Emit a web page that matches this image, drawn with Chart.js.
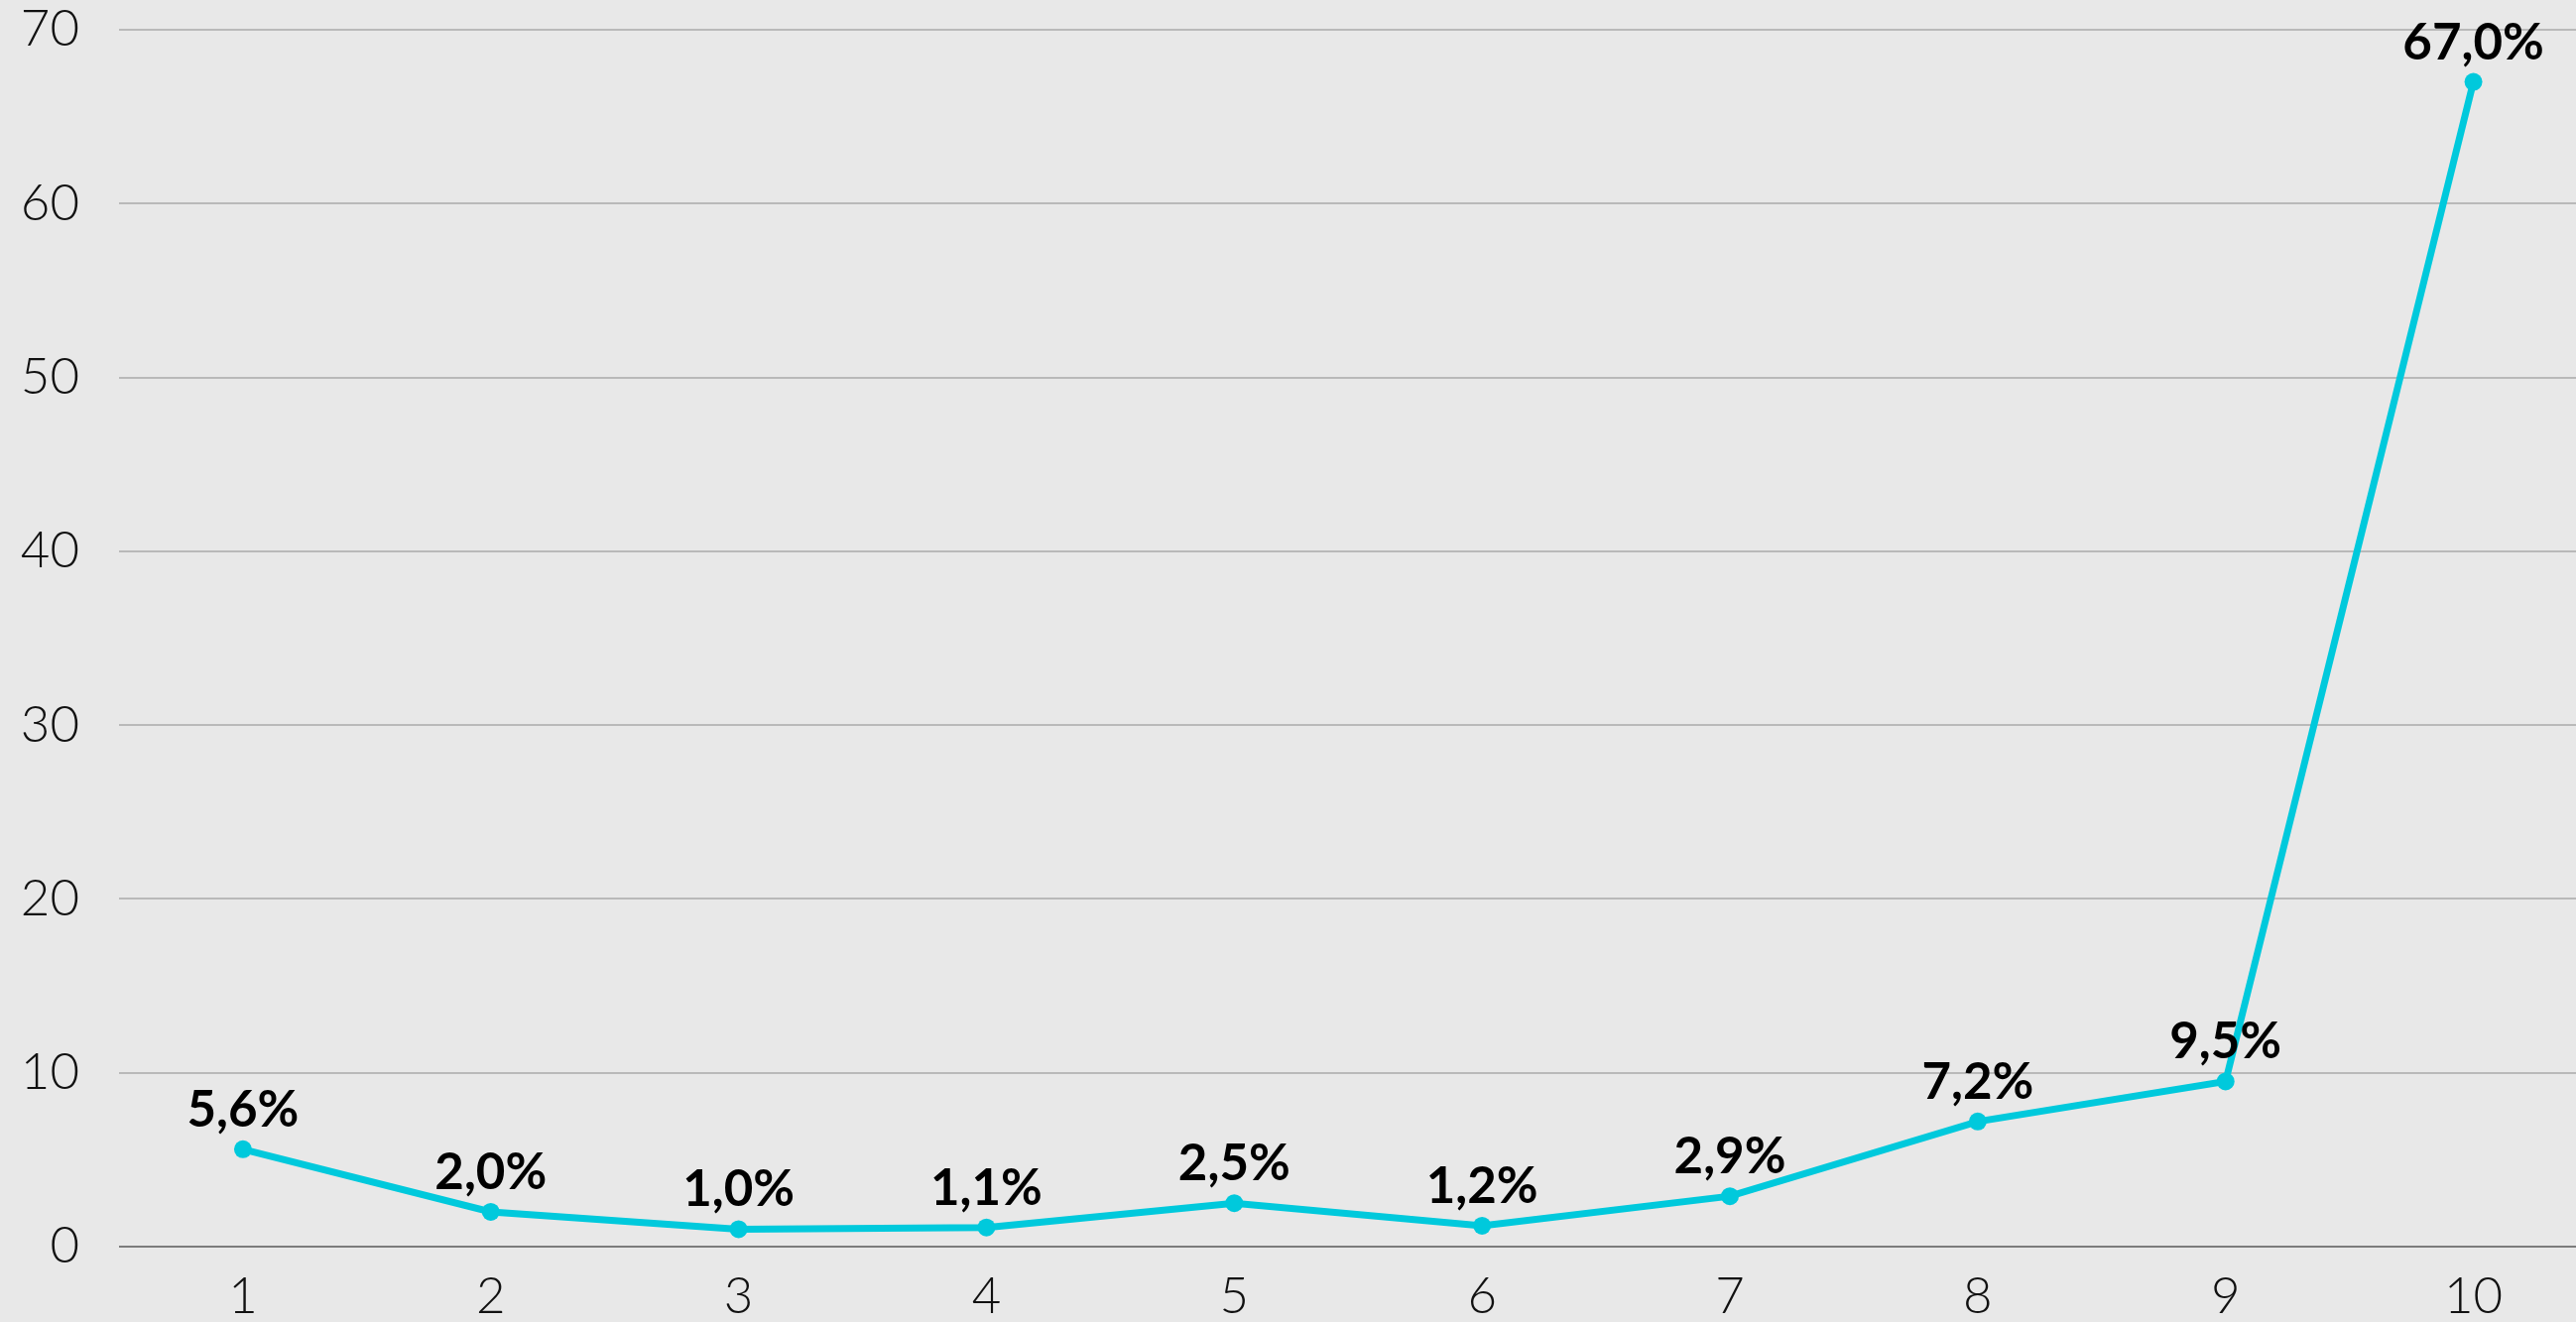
<!DOCTYPE html>
<html lang="en">
<head>
  <meta charset="UTF-8">
  <title>Line chart</title>
  <script src="https://cdn.jsdelivr.net/npm/chart.js"></script>
  <style>
    html, body { margin: 0; padding: 0; background: #e8e8e8; overflow: hidden; }
    #wrap { width: 2597px; height: 1333px; }
  </style>
</head>
<body>
  <div id="wrap"><canvas id="chart"></canvas></div>
  <script>
    // data
    const categories = [1, 2, 3, 4, 5, 6, 7, 8, 9, 10];
    const shares = [5.6, 2.0, 1.0, 1.1, 2.5, 1.2, 2.9, 7.2, 9.5, 67.0];
    const yTicks = [0, 10, 20, 30, 40, 50, 60, 70];

    const lineColor = '#00c9dc';

    // draws "5,6%" style labels above each point
    const valueLabels = {
      id: 'valueLabels',
      afterDatasetsDraw(chart) {
        const ctx = chart.ctx;
        const meta = chart.getDatasetMeta(0);
        ctx.save();
        ctx.font = '700 51px Lato, "Noto Sans", sans-serif';
        ctx.fillStyle = '#000';
        ctx.textAlign = 'center';
        ctx.textBaseline = 'alphabetic';
        meta.data.forEach((pt, i) => {
          const txt = shares[i].toFixed(1).replace('.', ',') + '%';
          ctx.fillText(txt, pt.x, pt.y - 23);
        });
        ctx.restore();
      }
    };

    new Chart(document.getElementById('chart'), {
      type: 'line',
      data: {
        datasets: [{
          data: categories.map((c, i) => ({ x: c, y: shares[i] })),
          borderColor: lineColor,
          backgroundColor: lineColor,
          borderWidth: 7,
          pointRadius: 9,
          pointBorderWidth: 0,
          tension: 0,
          clip: false
        }]
      },
      options: {
        responsive: true,
        maintainAspectRatio: false,
        animation: false,
        layout: { autoPadding: false, padding: 0 },
        plugins: {
          legend: { display: false },
          tooltip: { enabled: false }
        },
        scales: {
          x: {
            type: 'linear',
            min: 0.5,
            max: 10.414,
            afterFit(scale) { scale.height = 76; },
            afterBuildTicks(scale) { scale.ticks = categories.map(v => ({ value: v })); },
            grid: { display: false, drawTicks: false },
            border: { display: false },
            ticks: {
              color: '#111',
              padding: 20,
              font: { family: 'Lato, "Noto Sans", sans-serif', size: 51, weight: 300 }
            }
          },
          y: {
            min: 0,
            max: 70,
            afterFit(scale) {
              scale.width = 120;
              scale.paddingTop = 30;
              scale.paddingBottom = 0;
            },
            afterBuildTicks(scale) { scale.ticks = yTicks.map(v => ({ value: v })); },
            grid: {
              drawTicks: false,
              lineWidth: 2,
              color: (c) => c.tick && c.tick.value === 0 ? '#7c7c7c' : '#b9b9b9'
            },
            border: { display: false },
            ticks: {
              color: '#111',
              padding: 40,
              font: { family: 'Lato, "Noto Sans", sans-serif', size: 51, weight: 300 }
            }
          }
        }
      },
      plugins: [valueLabels]
    });
  </script>
</body>
</html>
